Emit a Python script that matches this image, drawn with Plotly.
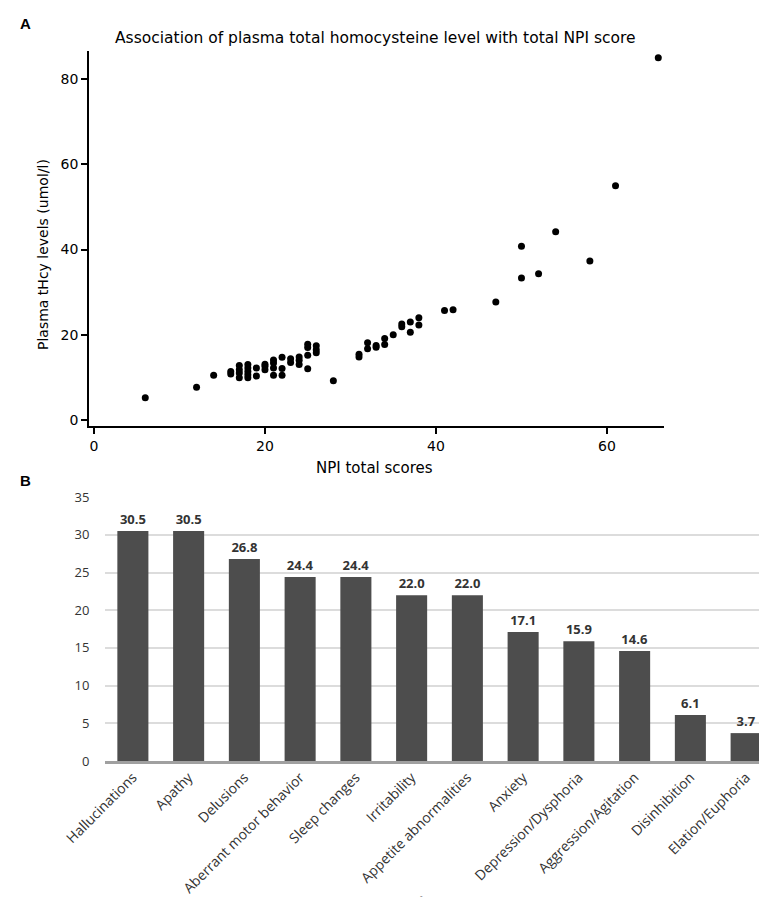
import plotly.graph_objects as go

# ---------------- data ----------------
npi_scores = [6, 12, 14, 16, 16,
              17, 17, 17, 17,
              18, 18, 18, 18, 18,
              19, 19,
              20, 20, 20,
              21, 21, 21, 21,
              22, 22, 22,
              23, 23,
              24, 24, 24,
              25, 25, 25, 25,
              26, 26, 26,
              28, 31, 31, 32, 32, 33, 33, 34, 34, 35, 36, 36, 37, 37, 38, 38,
              41, 42, 47, 50, 50, 52, 54, 58, 61, 66]
thcy_levels = [5.2, 7.7, 10.5, 11.4, 10.8,
               12.8, 11.8, 11.0, 9.9,
               13.0, 12.2, 11.4, 10.6, 9.9,
               12.2, 10.3,
               13.1, 12.6, 11.8,
               14.1, 13.4, 12.2, 10.5,
               14.7, 12.1, 10.5,
               14.4, 13.5,
               14.8, 14.0, 13.0,
               17.8, 17.0, 15.2, 12.0,
               17.4, 16.5, 15.8,
               9.2, 15.4, 14.8, 18.1, 16.7, 17.5, 17.1, 19.1, 17.7, 20.0, 22.5, 21.9, 23.0, 20.6, 24.0, 22.3,
               25.7, 25.9, 27.7, 40.8, 33.3, 34.3, 44.2, 37.3, 55.0, 85.0]

scatter_xticks = [0, 20, 40, 60]
scatter_yticks = [0, 20, 40, 60, 80]

symptoms = ["Hallucinations", "Apathy", "Delusions", "Aberrant motor behavior",
            "Sleep changes", "Irritability", "Appetite abnormalities", "Anxiety",
            "Depression/Dysphoria", "Aggression/Agitation", "Disinhibition",
            "Elation/Euphoria"]
prevalence = [30.5, 30.5, 26.8, 24.4, 24.4, 22.0, 22.0, 17.1, 15.9, 14.6, 6.1, 3.7]
bar_yticks = [0, 5, 10, 15, 20, 25, 30, 35]

# ---------------- figure ----------------
W, H = 767, 900


def px(x):
    return x / W


def py(y):
    return 1 - y / H


fig = go.Figure()

fig.add_trace(go.Scatter(
    x=npi_scores, y=thcy_levels, mode="markers",
    marker=dict(color="black", size=7, line=dict(width=0)),
    xaxis="x", yaxis="y", showlegend=False, hoverinfo="x+y"))

fig.add_trace(go.Bar(
    x=symptoms, y=prevalence,
    marker=dict(color="#4d4d4d", line=dict(width=0)),
    text=[f"{v:.1f}" for v in prevalence], textposition="outside",
    textfont=dict(family="Open Sans", size=13, color="#333333", weight="bold"),
    cliponaxis=False,
    xaxis="x2", yaxis="y2", showlegend=False))

sc_font = dict(family="DejaVu Sans", size=14, color="black")

fig.update_layout(
    template="none",
    width=W, height=H, autosize=False,
    margin=dict(l=0, r=0, t=0, b=0, pad=0),
    paper_bgcolor="white", plot_bgcolor="white",
    bargap=0.443,
    xaxis=dict(domain=[px(81), px(656)], range=[-0.58, 66.67], automargin=False,
               showgrid=False, zeroline=False, showline=True,
               linecolor="black", linewidth=1.5, mirror=False,
               ticks="outside", ticklen=6, tickwidth=1.5, tickcolor="black",
               tickvals=scatter_xticks, tickfont=sc_font, anchor="y"),
    yaxis=dict(domain=[py(418), py(43)], range=[-1.41, 86.6], automargin=False,
               showgrid=False, zeroline=False, showline=True,
               linecolor="black", linewidth=1.5,
               ticks="outside", ticklen=6, tickwidth=1.5, tickcolor="black",
               tickvals=scatter_yticks, tickfont=sc_font, anchor="x"),
    xaxis2=dict(domain=[px(97), px(766)], anchor="y2", automargin=False,
                showgrid=False, zeroline=False, showline=True,
                linecolor="#a0a0a0", linewidth=2.5, ticks="",
                tickangle=-45,
                tickfont=dict(family="Open Sans", size=14, color="#333333")),
    yaxis2=dict(domain=[py(753), py(489)], range=[0, 35.02], anchor="x2",
                automargin=False,
                showgrid=True, gridcolor="#dcdcdc", gridwidth=1.5,
                zeroline=False, showline=False,
                ticks="outside", ticklen=12, tickcolor="rgba(0,0,0,0)",
                tickvals=bar_yticks,
                tickfont=dict(family="Open Sans", size=13, color="#333333")),
    annotations=[
        dict(text="Association of plasma total homocysteine level with total NPI score",
             x=px(367), y=py(30), xref="paper", yref="paper",
             xanchor="center", yanchor="middle", showarrow=False,
             font=dict(family="DejaVu Sans", size=15.5, color="black")),
        dict(text="Plasma tHcy levels (umol/l)", textangle=-90,
             x=px(35), y=py(247), xref="paper", yref="paper",
             xanchor="center", yanchor="middle", showarrow=False,
             font=dict(family="DejaVu Sans", size=14, color="black")),
        dict(text="NPI total scores",
             x=px(366), y=py(460), xref="paper", yref="paper",
             xanchor="center", yanchor="middle", showarrow=False,
             font=dict(family="DejaVu Sans", size=15, color="black")),
        dict(text="<b>A</b>", x=px(10), y=py(15), xref="paper", yref="paper",
             xanchor="left", yanchor="middle", showarrow=False,
             font=dict(family="Liberation Sans", size=15, color="black")),
        dict(text="<b>B</b>", x=px(10), y=py(472), xref="paper", yref="paper",
             xanchor="left", yanchor="middle", showarrow=False,
             font=dict(family="Liberation Sans", size=15, color="black")),
        dict(text="-", x=px(413), y=py(886), xref="paper", yref="paper",
             xanchor="center", yanchor="middle", showarrow=False, borderpad=0,
             font=dict(family="Open Sans", size=8, color="#555555")),
    ],
)

fig.write_html("out.html")
